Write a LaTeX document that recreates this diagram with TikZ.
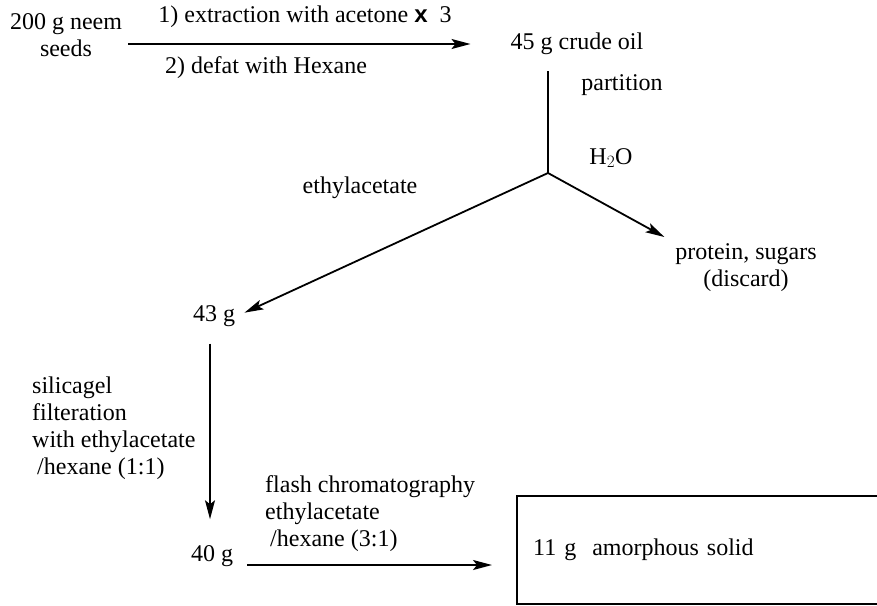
\documentclass[tikz,border=0pt]{standalone}
\usepackage{fontspec}
\setmainfont{Liberation Serif}
\setsansfont{Liberation Sans}
\usetikzlibrary{arrows.meta}
\tikzset{
	flow/.style={line width=1.8pt, -{Stealth[length=19pt,width=10pt,inset=4pt]}},
	stage/.style={inner sep=2pt, align=center},
	cond/.style={inner sep=0pt, align=left, anchor=west},
}
\begin{document}
\begin{tikzpicture}[x=1pt,y=-1pt,font=\fontsize{24}{27}\selectfont]
	\useasboundingbox (0,0) rectangle (877,605);
	% Stages
	\node[stage] (seeds) at (66,35) {200 g neem\\seeds};
	\node[stage] (oil) at (577,44) {45 g crude oil};
	\coordinate (split) at (548,173);
	\node[stage] (protein) at (746,268) {protein, sugars\\(discard)};
	\node[stage] (c43) at (214,316) {43 g};
	\node[stage] (c40) at (212,556) {40 g};
	\node[anchor=west, minimum height=107pt, text width=360pt, inner xsep=16pt, align=left] (solid) at (517,550) {11 g\ \ amorphous solid};
	% Box (runs off the right edge)
	\draw[line width=1.8pt] (solid.north east) -- (solid.north west) -- (solid.south west) -- (solid.south east);
	% Arrows
	\draw[flow, shorten <=4pt, shorten >=38pt] (seeds.east |- oil) -- (oil);
	\draw[line width=1.8pt, shorten <=14pt] (oil.south -| split) -- (split);
	\draw[flow, shorten >=8pt] (split) -- (c43.east);
	\draw[flow, shorten >=10pt] (split) -- (protein.north west);
	\draw[flow, shorten <=15pt, shorten >=24pt] (c43.south -| 210,0) -- (c40.north -| 210,0);
	\draw[flow, shorten <=12pt, shorten >=25pt] ([yshift=-9pt]c40.east) -- ([yshift=-9pt]c40.east -| solid.west);
	%Labels
	\node[stage] (ext) at (305,17) {1) extraction with acetone {\sffamily\bfseries x}\ \ 3};
	\node[stage] (defat) at (266,68) {2) defat with Hexane};
	\node[stage] (part) at (622,85) {partition};
	\node[stage] (water) at (611,158) {H$_2$O};
	\node[stage] (ethyl) at (360,188) {ethylacetate};
	\node[cond] (silica) at (32,428) {silicagel\\filteration\\with ethylacetate\\\hspace{5pt}/hexane (1:1)};
	\node[cond] (flash) at (265,514) {flash chromatography\\ethylacetate\\\hspace{5pt}/hexane (3:1)};
\end{tikzpicture}
\end{document}
